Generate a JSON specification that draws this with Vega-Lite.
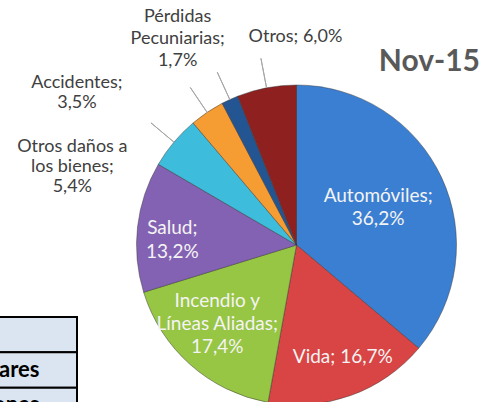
{
  "$schema": "https://vega.github.io/schema/vega-lite/v6.json",
  "width": 393,
  "height": 314,
  "autosize": {"type": "none"},
  "padding": {"left": 100, "top": 88, "right": 0, "bottom": 0},
  "background": "white",
  "config": {"view": {"stroke": null}, "font": "Lato"},
  "title": {"text": "Nov-15", "anchor": "end", "frame": "group", "align": "right", "fontSize": 30, "font": "Lato", "fontWeight": "bold", "color": "#595959", "offset": 0, "baseline": "alphabetic", "dx": -13, "dy": 110},
  "datasets": {
    "ramos": [
      {"orden": 1, "ramo": "Automóviles", "valor": 36.2, "etiqueta": "Automóviles;\n36,2%"},
      {"orden": 2, "ramo": "Vida", "valor": 16.7, "etiqueta": "Vida; 16,7%"},
      {"orden": 3, "ramo": "Incendio y Líneas Aliadas", "valor": 17.4, "etiqueta": "Incendio y\nLíneas Aliadas;\n17,4%"},
      {"orden": 4, "ramo": "Salud", "valor": 13.2, "etiqueta": "Salud;\n13,2%"},
      {"orden": 5, "ramo": "Otros daños a los bienes", "valor": 5.4, "etiqueta": "Otros daños a\nlos bienes;\n5,4%"},
      {"orden": 6, "ramo": "Accidentes", "valor": 3.5, "etiqueta": "Accidentes;\n3,5%"},
      {"orden": 7, "ramo": "Pérdidas Pecuniarias", "valor": 1.7, "etiqueta": "Pérdidas\nPecuniarias;\n1,7%"},
      {"orden": 8, "ramo": "Otros", "valor": 6.0, "etiqueta": "Otros; 6,0%"}
    ],
    "tabla": [
      {"col": "a", "fila": "1", "texto": ""},
      {"col": "a", "fila": "2", "texto": "Dólares"},
      {"col": "a", "fila": "3", "texto": "Millones"}
    ]
  },
  "layer": [
    {
      "data": {"name": "ramos"},
      "mark": {"type": "arc", "outerRadius": 160, "stroke": "#333333", "strokeOpacity": 0.45, "strokeWidth": 1},
      "encoding": {
        "theta": {"field": "valor", "type": "quantitative", "stack": true},
        "order": {"field": "orden", "type": "quantitative"},
        "color": {
          "field": "ramo", "type": "nominal", "legend": null,
          "scale": {
            "domain": ["Automóviles", "Vida", "Incendio y Líneas Aliadas", "Salud", "Otros daños a los bienes", "Accidentes", "Pérdidas Pecuniarias", "Otros"],
            "range": ["#3b7fd2", "#d94444", "#97c544", "#8462b3", "#3dbcdc", "#f59c32", "#245593", "#8e2020"]
          }
        }
      }
    },
    {
      "data": {"name": "ramos"},
      "mark": {"type": "arc", "innerRadius": 160, "outerRadius": 190, "padAngle": 1, "fill": null, "strokeWidth": 1},
      "encoding": {
        "theta": {"field": "valor", "type": "quantitative", "stack": true},
        "order": {"field": "orden", "type": "quantitative"},
        "stroke": {"condition": {"test": "datum.valor < 7", "value": "#a6a6a6"}, "value": "transparent"}
      }
    },
    {
      "data": {"name": "ramos"},
      "mark": {"type": "text", "radius": 90, "dy": -11, "fontSize": 19, "lineHeight": 23, "lineBreak": "\n", "color": "#f4f4f4", "align": "center", "baseline": "middle"},
      "encoding": {
        "theta": {"field": "valor", "type": "quantitative", "stack": true},
        "order": {"field": "orden", "type": "quantitative"},
        "text": {"condition": {"test": "datum.ramo === 'Automóviles'", "field": "etiqueta", "type": "nominal"}, "value": ""}
      }
    },
    {
      "data": {"name": "ramos"},
      "mark": {"type": "text", "radius": 119, "dx": 6, "fontSize": 19, "lineHeight": 23, "lineBreak": "\n", "color": "#f4f4f4", "align": "center", "baseline": "middle"},
      "encoding": {
        "theta": {"field": "valor", "type": "quantitative", "stack": true},
        "order": {"field": "orden", "type": "quantitative"},
        "text": {"condition": {"test": "datum.ramo === 'Vida'", "field": "etiqueta", "type": "nominal"}, "value": ""}
      }
    },
    {
      "data": {"name": "ramos"},
      "mark": {"type": "text", "radius": 112, "dx": -5, "dy": -28, "fontSize": 19, "lineHeight": 23, "lineBreak": "\n", "color": "#f4f4f4", "align": "center", "baseline": "middle"},
      "encoding": {
        "theta": {"field": "valor", "type": "quantitative", "stack": true},
        "order": {"field": "orden", "type": "quantitative"},
        "text": {"condition": {"test": "datum.ramo === 'Incendio y Líneas Aliadas'", "field": "etiqueta", "type": "nominal"}, "value": ""}
      }
    },
    {
      "data": {"name": "ramos"},
      "mark": {"type": "text", "radius": 125, "dy": -3, "fontSize": 19, "lineHeight": 24, "lineBreak": "\n", "color": "#f4f4f4", "align": "center", "baseline": "middle"},
      "encoding": {
        "theta": {"field": "valor", "type": "quantitative", "stack": true},
        "order": {"field": "orden", "type": "quantitative"},
        "text": {"condition": {"test": "datum.ramo === 'Salud'", "field": "etiqueta", "type": "nominal"}, "value": ""}
      }
    },
    {
      "data": {"name": "ramos"},
      "mark": {"type": "text", "radius": 230, "dx": -48, "dy": 50, "fontSize": 18, "lineHeight": 20, "lineBreak": "\n", "color": "#404040", "align": "center", "baseline": "middle"},
      "encoding": {
        "theta": {"field": "valor", "type": "quantitative", "stack": true},
        "order": {"field": "orden", "type": "quantitative"},
        "text": {"condition": {"test": "datum.ramo === 'Otros daños a los bienes'", "field": "etiqueta", "type": "nominal"}, "value": ""}
      }
    },
    {
      "data": {"name": "ramos"},
      "mark": {"type": "text", "radius": 230, "dx": -91, "dy": 29, "fontSize": 18, "lineHeight": 20, "lineBreak": "\n", "color": "#404040", "align": "center", "baseline": "middle"},
      "encoding": {
        "theta": {"field": "valor", "type": "quantitative", "stack": true},
        "order": {"field": "orden", "type": "quantitative"},
        "text": {"condition": {"test": "datum.ramo === 'Accidentes'", "field": "etiqueta", "type": "nominal"}, "value": ""}
      }
    },
    {
      "data": {"name": "ramos"},
      "mark": {"type": "text", "radius": 230, "dx": -23, "dy": -19, "fontSize": 18, "lineHeight": 22, "lineBreak": "\n", "color": "#404040", "align": "center", "baseline": "middle"},
      "encoding": {
        "theta": {"field": "valor", "type": "quantitative", "stack": true},
        "order": {"field": "orden", "type": "quantitative"},
        "text": {"condition": {"test": "datum.ramo === 'Pérdidas Pecuniarias'", "field": "etiqueta", "type": "nominal"}, "value": ""}
      }
    },
    {
      "data": {"name": "ramos"},
      "mark": {"type": "text", "radius": 230, "dx": 42, "dy": 18, "fontSize": 18, "lineHeight": 20, "lineBreak": "\n", "color": "#404040", "align": "center", "baseline": "middle"},
      "encoding": {
        "theta": {"field": "valor", "type": "quantitative", "stack": true},
        "order": {"field": "orden", "type": "quantitative"},
        "text": {"condition": {"test": "datum.ramo === 'Otros'", "field": "etiqueta", "type": "nominal"}, "value": ""}
      }
    },
    {
      "data": {"name": "tabla"},
      "mark": {"type": "rect", "fill": "#dbe5f1", "stroke": "#000000", "strokeWidth": 2},
      "encoding": {
        "x": {"field": "col", "type": "nominal", "axis": null, "scale": {"range": [-300, -23], "paddingInner": 0, "paddingOuter": 0}},
        "y": {"field": "fila", "type": "ordinal", "axis": null, "scale": {"range": [229, 335], "paddingInner": 0, "paddingOuter": 0}}
      }
    },
    {
      "data": {"name": "tabla"},
      "mark": {"type": "text", "align": "right", "baseline": "middle", "dx": 101, "fontSize": 22, "fontWeight": "bold", "color": "#000000"},
      "encoding": {
        "x": {"field": "col", "type": "nominal", "axis": null},
        "y": {"field": "fila", "type": "ordinal", "axis": null},
        "text": {"field": "texto", "type": "nominal"}
      }
    }
  ]
}
